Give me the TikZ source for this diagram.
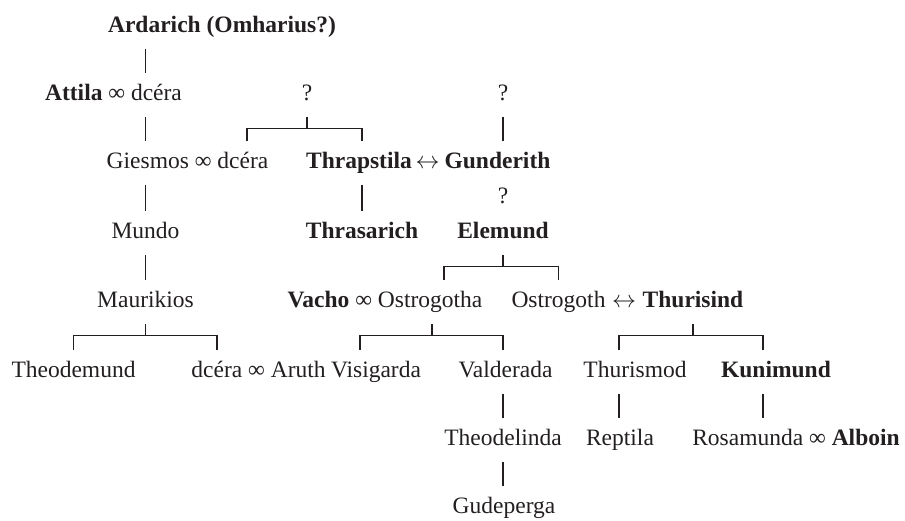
\documentclass[tikz,border=0pt]{standalone}
\usepackage{fontspec}
\setmainfont{Liberation Serif}
\usepackage{tikz}
\definecolor{ink}{HTML}{231F20}

\begin{document}
\begin{tikzpicture}[
  x=0.5pt, y=-0.5pt,
  person/.style={anchor=base, inner sep=0pt, outer xsep=0pt, outer ysep=5.25pt,
    text height=8.5pt, text depth=3pt, text=ink, font=\fontsize{11.75}{14}\selectfont},
  link/.style={draw=ink, line width=0.65pt},
]
  \useasboundingbox (0,0) rectangle (905,520);

  % generations, top to bottom
  \node[person] (ard)     at (222,32)    {\textbf{Ardarich (Omharius?)}};

  \node[person] (attila)  at (113.5,100) {\textbf{Attila} ∞ dcéra};
  \node[person] (q1)      at (307,100)   {?};
  \node[person] (q2)      at (503,100)   {?};

  \node[person] (giesmos) at (187.5,168) {Giesmos ∞ dcéra};
  \node[person] (thrap)   at (359,168)   {\textbf{Thrapstila}};
  \node[person] (tg)      at (427.5,168) {$\leftrightarrow$};
  \node[person] (gund)    at (497.5,168) {\textbf{Gunderith}};
  \node[person] (q3)      at (503,203)   {?};

  \node[person] (mundo)   at (145.5,238) {Mundo};
  \node[person] (thras)   at (362,238)   {\textbf{Thrasarich}};
  \node[person] (elem)    at (503,238)   {\textbf{Elemund}};

  \node[person] (maur)    at (145.5,307) {Maurikios};
  \node[person] (vacho)   at (385,307)   {\textbf{Vacho} ∞ Ostrogotha};
  \node[person] (ostro)   at (558.5,307) {Ostrogoth};
  \node[person] (ot)      at (624,307)   {$\leftrightarrow$};
  \node[person] (thuri)   at (693,307)   {\textbf{Thurisind}};

  \node[person] (theod)   at (73.5,377)  {Theodemund};
  \node[person] (dcaruth) at (258.5,377) {dcéra ∞ Aruth};
  \node[person] (visi)    at (376,377)   {Visigarda};
  \node[person] (vald)    at (505.5,377) {Valderada};
  \node[person] (thurm)   at (635,377)   {Thurismod};
  \node[person] (kuni)    at (776,377)   {\textbf{Kunimund}};

  \node[person] (theodl)  at (503,445)   {Theodelinda};
  \node[person] (rept)    at (620,445)   {Reptila};
  \node[person] (rosa)    at (796,445)   {Rosamunda ∞ \textbf{Alboin}};

  \node[person] (gude)    at (504,513)   {Gudeperga};

  % left line
  \draw[link] (ard.south -| maur)     -- (attila.north -| maur);
  \draw[link] (attila.south -| maur)  -- (giesmos.north -| maur);
  \draw[link] (giesmos.south -| maur) -- (mundo.north);
  \draw[link] (mundo.south) -- (maur.north);

  % forks
  \draw[link] (q1.south) -- ++(0,12) coordinate (f1);
  \draw[link] ([xshift=29.75pt]giesmos.north) |- (f1) -| (thrap.north -| thras);
  \draw[link] (q2.south) -- (q2.south |- gund.north);
  \draw[link] (thrap.south -| thras) -- (thras.north);

  \draw[link] (elem.south) -- ++(0,12) coordinate (f2);
  \draw[link] ([xshift=29.5pt]vacho.north) |- (f2) -| (ostro.north);

  \draw[link] (maur.south) -- ++(0,12) coordinate (f3);
  \draw[link] (theod.north) |- (f3) -| ([xshift=-20.75pt]dcaruth.north);

  \draw[link] ([xshift=23.5pt]vacho.south) -- ++(0,12) coordinate (f4);
  \draw[link] ([xshift=-8pt]visi.north) |- (f4) -| (vald.north -| theodl);

  \draw[link] (thuri.south) -- ++(0,12) coordinate (f5);
  \draw[link] ([xshift=-8pt]thurm.north) |- (f5) -| ([xshift=-6.5pt]kuni.north);

  % lower lines
  \draw[link] (vald.south -| theodl) -- (theodl.north);
  \draw[link] (theodl.south) -- (gude.north -| theodl);
  \draw[link] ([xshift=-8pt]thurm.south) -- ([xshift=-8pt]thurm.south |- rept.north);
  \draw[link] ([xshift=-6.5pt]kuni.south) -- ([xshift=-6.5pt]kuni.south |- rosa.north);
\end{tikzpicture}
\end{document}
